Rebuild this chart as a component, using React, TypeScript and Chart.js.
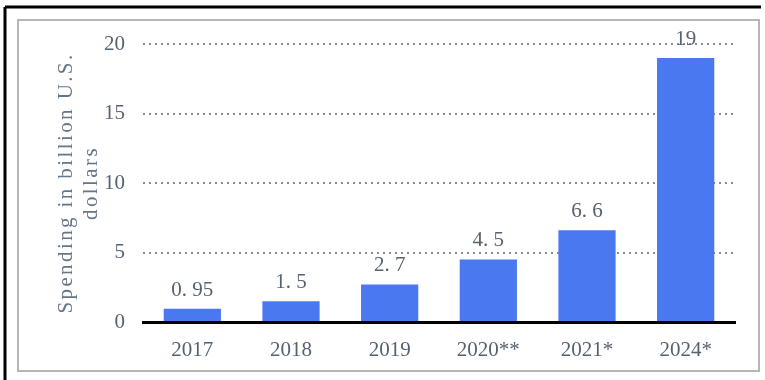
import React, { useEffect, useRef } from 'react';
import { Chart, registerables } from 'chart.js';

Chart.register(...registerables);

const categories = ['2017', '2018', '2019', '2020**', '2021*', '2024*'];
const spending = [0.95, 1.5, 2.7, 4.5, 6.6, 19];
const valueLabels = ['0. 95', '1. 5', '2. 7', '4. 5', '6. 6', '19'];
const yTitle = ['Spending in billion U.S.', 'dollars'];
const yMin = 0;
const yMax = 20;
const yStep = 5;

const FONT = "'Liberation Serif', 'DejaVu Serif', serif";
const TEXT = '#556270';
const TITLE = '#667686';
const BAR = '#4978f0';

const framePlugin = {
  id: 'frame',
  beforeDraw(chart: any) {
    const ctx = chart.ctx;
    ctx.save();
    ctx.fillStyle = '#ffffff';
    ctx.fillRect(0, 0, chart.width, chart.height);
    ctx.strokeStyle = '#b4b6b8';
    ctx.lineWidth = 2;
    ctx.strokeRect(18, 20, 741, 351);
    ctx.strokeStyle = '#000000';
    ctx.lineWidth = 3;
    ctx.beginPath();
    ctx.moveTo(5, 7);
    ctx.lineTo(761, 7);
    ctx.moveTo(5, 7);
    ctx.lineTo(5, 380);
    ctx.stroke();
    ctx.restore();
    // spacing for the wide axis title
    (ctx as any).letterSpacing = '2.4px';
  },
  beforeDatasetsDraw(chart: any) {
    (chart.ctx as any).letterSpacing = '0px';
  },
  afterDatasetsDraw(chart: any) {
    const ctx = chart.ctx;
    const meta = chart.getDatasetMeta(0);
    ctx.save();
    ctx.font = `21px ${FONT}`;
    ctx.fillStyle = TEXT;
    ctx.textAlign = 'center';
    ctx.textBaseline = 'alphabetic';
    meta.data.forEach((bar: any, i: number) => {
      ctx.fillText(valueLabels[i], bar.x, bar.y - 13);
    });
    ctx.restore();
  },
};

export default function App() {
  const ref = useRef<HTMLCanvasElement | null>(null);

  useEffect(() => {
    document.body.style.margin = '0';
    const canvas = ref.current;
    if (!canvas) return;
    const chart = new Chart(canvas, {
      type: 'bar',
      data: {
        labels: categories,
        datasets: [
          {
            data: spending,
            backgroundColor: BAR,
            borderWidth: 0,
            barPercentage: 0.58,
            categoryPercentage: 1,
          },
        ],
      },
      options: {
        responsive: false,
        animation: false,
        devicePixelRatio: 1,
        layout: { padding: { left: 0, right: 30, top: 44, bottom: 18 } },
        plugins: {
          legend: { display: false },
          tooltip: { enabled: false },
        },
        scales: {
          x: {
            grid: { display: false },
            border: { display: true, color: '#000000', width: 3, z: 1 },
            ticks: {
              z: 1,
              color: TEXT,
              font: { family: FONT, size: 21 },
              padding: 8,
              maxRotation: 0,
            },
            afterFit(scale: any) {
              scale.height = 40;
            },
          },
          y: {
            min: yMin,
            max: yMax,
            ticks: {
              stepSize: yStep,
              z: 1,
              color: TEXT,
              font: { family: FONT, size: 21 },
              padding: 18,
            },
            grid: {
              drawTicks: false,
              color: '#8a8a8a',
              lineWidth: 2,
            },
            border: { display: false, dash: [2, 4] },
            title: {
              display: true,
              text: yTitle,
              color: TITLE,
              font: { family: FONT, size: 21, lineHeight: 1.2 },
              padding: { top: 54, bottom: 0 },
            },
            afterFit(scale: any) {
              scale.width = 143;
            },
          },
        },
      },
      plugins: [framePlugin],
    });
    return () => chart.destroy();
  }, []);

  return (
    <div style={{ width: 765, height: 380 }}>
      <canvas ref={ref} width={765} height={380} style={{ display: 'block' }} />
    </div>
  );
}
